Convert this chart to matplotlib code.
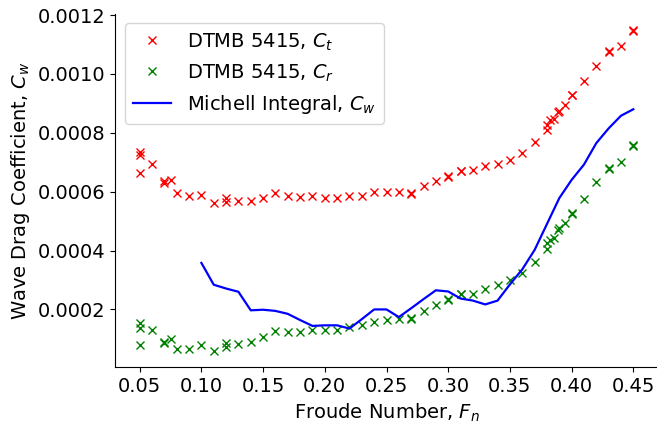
import matplotlib
matplotlib.use("Agg")
import matplotlib.pyplot as plt
from matplotlib.ticker import FormatStrFormatter

fn = [0.05, 0.05, 0.05, 0.06, 0.07, 0.07, 0.075, 0.08, 0.09, 0.10, 0.11, 0.12, 0.12,
      0.13, 0.14, 0.15, 0.16, 0.17, 0.18, 0.19, 0.20, 0.21, 0.22, 0.23, 0.24, 0.25,
      0.26, 0.27, 0.27, 0.28, 0.29, 0.30, 0.30, 0.31, 0.31, 0.32, 0.33, 0.34, 0.35,
      0.36, 0.37, 0.38, 0.38, 0.3825, 0.386, 0.389, 0.39, 0.395, 0.40, 0.40, 0.41,
      0.42, 0.43, 0.43, 0.44, 0.45, 0.45]

ct = [0.000736, 0.000725, 0.000664, 0.000695, 0.00063, 0.000635, 0.00064, 0.000597,
      0.000586, 0.000588, 0.000563, 0.00058, 0.000565, 0.000569, 0.000569, 0.000577,
      0.000595, 0.000587, 0.000582, 0.000587, 0.00058, 0.00058, 0.000584, 0.000584,
      0.000598, 0.000598, 0.000598, 0.000593, 0.000596, 0.000618, 0.000637, 0.00065,
      0.000652, 0.000669, 0.000671, 0.000672, 0.000686, 0.000695, 0.000707, 0.000732,
      0.000768, 0.00081, 0.000827, 0.000842, 0.000847, 0.000869, 0.000875, 0.000895,
      0.000927, 0.00093, 0.000976, 0.001027, 0.001075, 0.001078, 0.001095, 0.001147,
      0.00115]

cr = [0.000155, 0.000138, 0.000079, 0.000129, 0.000085, 0.000088, 0.000098, 0.000064,
      0.000064, 0.000078, 0.000059, 0.000085, 0.000072, 0.000084, 0.000089, 0.000106,
      0.000127, 0.000123, 0.000123, 0.00013, 0.000129, 0.00013, 0.00014, 0.000146,
      0.000158, 0.000163, 0.000168, 0.000168, 0.00017, 0.000194, 0.000215, 0.000232,
      0.000234, 0.000251, 0.000254, 0.000254, 0.00027, 0.000283, 0.0003, 0.000324,
      0.000362, 0.000406, 0.000426, 0.000437, 0.000443, 0.000469, 0.000475, 0.000494,
      0.000525, 0.000528, 0.000576, 0.000632, 0.000678, 0.00068, 0.0007, 0.000754,
      0.000757]

mi_fn = [0.10, 0.11, 0.12, 0.13, 0.14, 0.15, 0.16, 0.17, 0.18, 0.19, 0.20, 0.21,
         0.22, 0.23, 0.24, 0.25, 0.26, 0.27, 0.28, 0.29, 0.30, 0.31, 0.32, 0.33,
         0.34, 0.35, 0.36, 0.37, 0.38, 0.39, 0.40, 0.41, 0.42, 0.43, 0.44, 0.45]
mi_cw = [0.000358, 0.000284, 0.000271, 0.00026, 0.000197, 0.000199, 0.000195,
         0.000185, 0.000164, 0.000144, 0.000146, 0.000146, 0.000135, 0.000167,
         0.0002, 0.0002, 0.000174, 0.000204, 0.000235, 0.000265, 0.000261, 0.000237,
         0.00023, 0.000217, 0.00023, 0.000285, 0.000336, 0.000402, 0.00049,
         0.000578, 0.00064, 0.000692, 0.000765, 0.000815, 0.000858, 0.00088]

plt.rcParams['font.size'] = 14
fig = plt.figure(figsize=(6.57, 4.26), dpi=100)
ax = fig.add_axes([115/657, (426-367)/426, 543/657, (367-13.7)/426])

ax.plot(fn, ct, 'x', color='red', label=r'DTMB 5415, $C_t$')
ax.plot(fn, cr, 'x', color='green', label=r'DTMB 5415, $C_r$')
ax.plot(mi_fn, mi_cw, '-', color='blue', lw=1.6, label=r'Michell Integral, $C_w$')

ax.spines['top'].set_visible(False)
ax.spines['right'].set_visible(False)
ax.yaxis.set_major_formatter(FormatStrFormatter('%.4f'))
ax.set_xticks([0.05, 0.10, 0.15, 0.20, 0.25, 0.30, 0.35, 0.40, 0.45])
ax.xaxis.set_major_formatter(FormatStrFormatter('%.2f'))
ax.set_xlabel(r'Froude Number, $F_n$')
ax.set_ylabel(r'Wave Drag Coefficient, $C_w$')
ax.legend(loc='upper left')

fig.savefig('out.png', dpi=100)
